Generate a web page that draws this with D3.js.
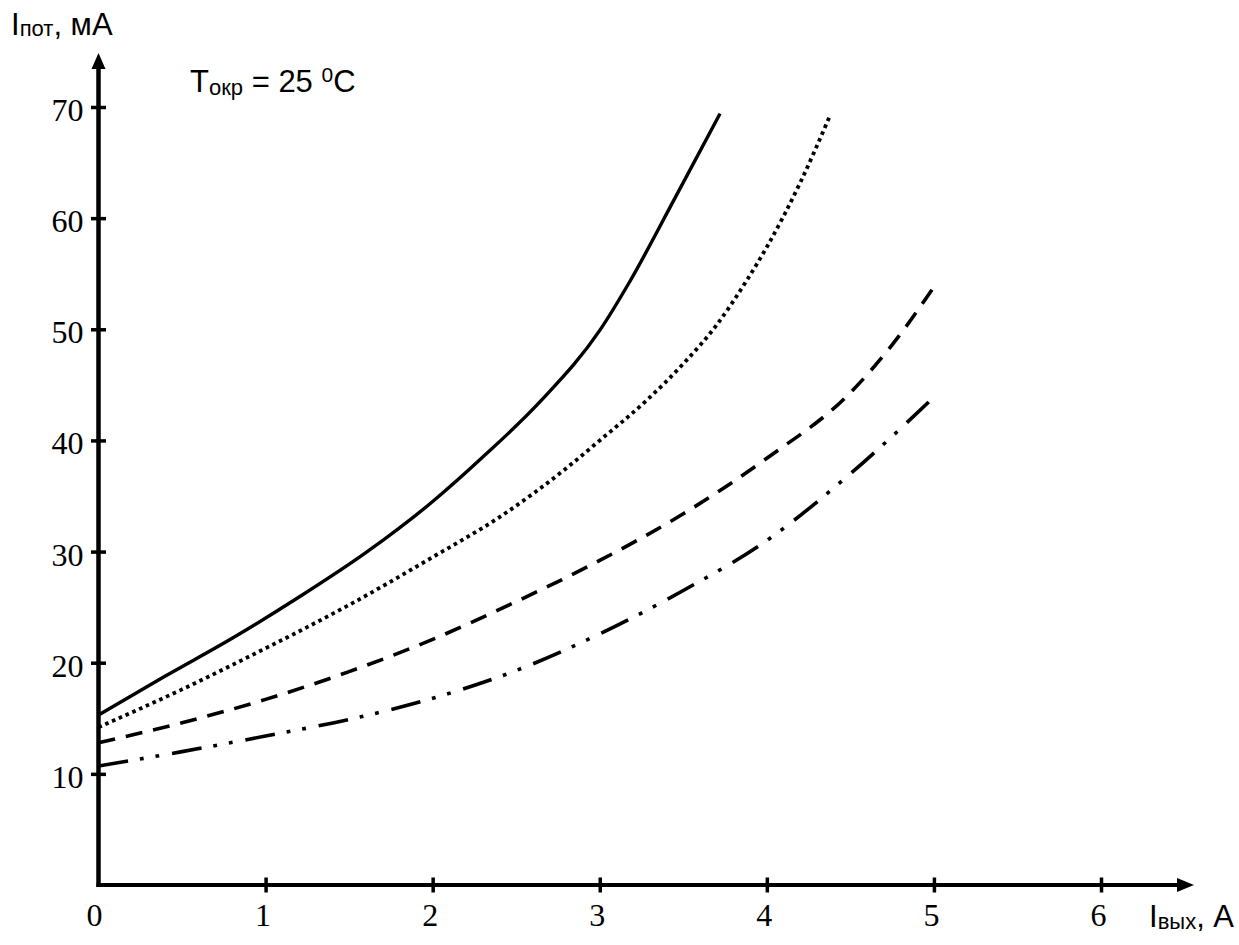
<!DOCTYPE html>
<html>
<head>
<meta charset="utf-8">
<script src="https://cdn.jsdelivr.net/npm/d3@7"></script>
<style>
  html, body { margin: 0; padding: 0; background: #fff; }
  svg { display: block; }
</style>
</head>
<body>
<svg id="chart" width="1239" height="945"></svg>
<script>
// ---- data ----
const xTicks = [1, 2, 3, 4, 5, 6];
const yTicks = [10, 20, 30, 40, 50, 60, 70];

const solidX = [0, 0.4, 0.8, 1.21, 1.6, 2.0, 2.3, 2.65, 3.0, 3.18, 3.45, 3.72];
const solidY = [15.3, 18.8, 22.2, 26.0, 29.9, 34.5, 38.5, 43.6, 49.9, 54.3, 61.8, 69.4];

const dottedX = [0, 0.5, 1.0, 1.21, 1.5, 2.0, 2.4, 2.8, 3.0, 3.28, 3.5, 3.7, 3.88, 4.0, 4.2, 4.38];
const dottedY = [14.2, 17.6, 21.3, 22.9, 25.2, 29.5, 33.1, 37.5, 40.0, 43.6, 46.9, 50.4, 54.4, 57.4, 63.2, 69.3];

const dashedX = [0, 0.5, 1.0, 1.5, 2.0, 2.5, 3.0, 3.5, 4.0, 4.5, 4.75, 5.0];
const dashedY = [12.8, 14.6, 16.7, 19.2, 22.1, 25.5, 29.2, 33.4, 38.4, 44.3, 48.6, 53.8];

const dashDotX = [0, 0.5, 1.0, 1.5, 2.0, 2.5, 3.0, 3.5, 4.0, 4.5, 5.0];
const dashDotY = [10.7, 12.0, 13.4, 14.9, 16.8, 19.3, 22.6, 26.5, 31.0, 37.0, 43.9];

const seriesNames = ["solid", "dotted", "dashed", "dashdot"];

// ---- drawing ----
const svg = d3.select("#chart");
const x = d3.scaleLinear().domain([0, 6]).range([98.5, 1101]);
const y = d3.scaleLinear().domain([0, 70]).range([885, 107]);

const serifFont = "'Liberation Serif', 'Times New Roman', serif";
const sansFont = "'Liberation Sans', Arial, sans-serif";

// axes lines with arrows
const x0 = x(0), y0 = y(0);
svg.append("line").attr("x1", x0).attr("y1", y0 + 2).attr("x2", x0).attr("y2", 66)
  .attr("stroke", "#000").attr("stroke-width", 4.5);
svg.append("path").attr("d", `M${x0},53 L${x0 - 7},69 L${x0 + 7},69 Z`).attr("fill", "#000");
svg.append("line").attr("x1", x0 - 2).attr("y1", y0).attr("x2", 1180).attr("y2", y0)
  .attr("stroke", "#000").attr("stroke-width", 4);
svg.append("path").attr("d", `M1194,${y0} L1177,${y0 - 7} L1177,${y0 + 7} Z`).attr("fill", "#000");

// x axis ticks via d3 axis
const gx = svg.append("g").attr("transform", `translate(0,${y0})`)
  .call(d3.axisBottom(x).tickValues(xTicks).tickFormat(d3.format("d")));
gx.select(".domain").remove();
gx.selectAll(".tick line").attr("y1", -7.5).attr("y2", 7.5).attr("stroke", "#000").attr("stroke-width", 3.5);
gx.selectAll(".tick text").attr("y", 41).attr("dy", 0).attr("dx", -3)
  .attr("font-family", serifFont).attr("font-size", 32).attr("fill", "#000");

// origin label 0
svg.append("text").attr("x", x0 - 4).attr("y", y0 + 41).attr("text-anchor", "middle")
  .attr("font-family", serifFont).attr("font-size", 32).text("0");

// y axis ticks
const gy = svg.append("g").attr("transform", `translate(${x0},0)`)
  .call(d3.axisLeft(y).tickValues(yTicks).tickFormat(d3.format("d")));
gy.select(".domain").remove();
gy.selectAll(".tick line").attr("x1", -7.5).attr("x2", 7.5).attr("stroke", "#000").attr("stroke-width", 3.5);
gy.selectAll(".tick text").attr("x", -15).attr("dy", "0.42em")
  .attr("font-family", serifFont).attr("font-size", 32).attr("fill", "#000");

// curves
const line = d3.line().x(d => x(d[0])).y(d => y(d[1])).curve(d3.curveMonotoneX);
const series = [
  { name: seriesNames[0], pts: d3.zip(solidX, solidY), dash: null, w: 3.4 },
  { name: seriesNames[1], pts: d3.zip(dottedX, dottedY), dash: "3.6,3.8", w: 3.8 },
  { name: seriesNames[2], pts: d3.zip(dashedX, dashedY), dash: "17,11", w: 3.6 },
  { name: seriesNames[3], pts: d3.zip(dashDotX, dashDotY), dash: "30,12,3.8,12,3.8,13", w: 3.6 }
];
svg.selectAll("path.curve").data(series).join("path")
  .attr("class", "curve")
  .attr("d", d => line(d.pts))
  .attr("fill", "none")
  .attr("stroke", "#000")
  .attr("stroke-width", d => d.w)
  .attr("stroke-linecap", "butt")
  .attr("stroke-dasharray", d => d.dash);

// labels
const yl = svg.append("text").attr("x", 11).attr("y", 35)
  .attr("font-family", sansFont).attr("font-size", 31).attr("fill", "#000");
yl.append("tspan").text("I");
yl.append("tspan").attr("font-size", 22).attr("dy", 1).text("пот");
yl.append("tspan").attr("dy", -1).text(", мА");

const xl = svg.append("text").attr("x", 1149).attr("y", 927)
  .attr("font-family", sansFont).attr("font-size", 31).attr("fill", "#000");
xl.append("tspan").text("I");
xl.append("tspan").attr("font-size", 22).attr("dy", 2).text("вых");
xl.append("tspan").attr("dy", -2).text(", A");

const tl = svg.append("text").attr("x", 190).attr("y", 92)
  .attr("font-family", sansFont).attr("font-size", 31).attr("fill", "#000");
tl.append("tspan").text("T");
tl.append("tspan").attr("font-size", 22).attr("dy", 3).text("окр");
tl.append("tspan").attr("dy", -3).text(" = 25 ");
tl.append("tspan").attr("font-size", 21).attr("dy", -10).text("0");
tl.append("tspan").attr("dy", 10).text("C");
</script>
</body>
</html>
